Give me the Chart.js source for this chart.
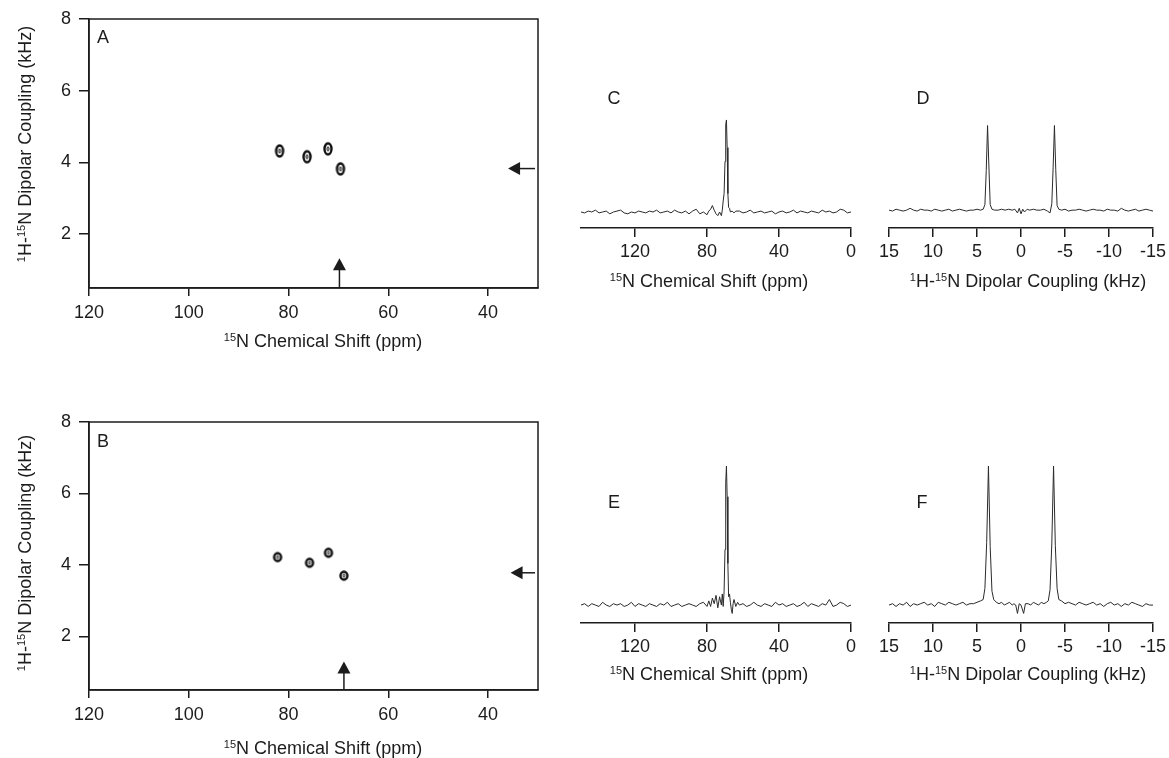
<!DOCTYPE html>
<html>
<head>
<meta charset="utf-8">
<script src="https://cdn.jsdelivr.net/npm/chart.js@4.4.0/dist/chart.umd.min.js"></script>
<style>
  body { margin: 0; background: #fff; width: 1169px; height: 758px; overflow: hidden; position: relative; }
  canvas { position: absolute; }
</style>
</head>
<body>
<canvas id="panelA" width="560" height="370" style="left:0;top:0"></canvas>
<canvas id="panelB" width="560" height="378" style="left:0;top:380px"></canvas>
<canvas id="panelC" width="305" height="230" style="left:560px;top:80px"></canvas>
<canvas id="panelD" width="320" height="230" style="left:865px;top:80px"></canvas>
<canvas id="panelE" width="305" height="250" style="left:560px;top:440px"></canvas>
<canvas id="panelF" width="320" height="250" style="left:865px;top:440px"></canvas>
<script>
// contour peak positions (ppm, kHz)
var peakShiftA = [81.8, 76.3, 72.1, 69.6];
var peakCouplingA = [4.32, 4.16, 4.38, 3.82];
var peakShiftB = [82.2, 75.8, 72.0, 68.9];
var peakCouplingB = [4.22, 4.06, 4.34, 3.70];

// arrow tips [ppm, kHz]
var upArrowA = [69.8, 1.33];
var sideArrowA = [36.0, 3.83];
var upArrowB = [68.9, 1.30];
var sideArrowB = [35.5, 3.78];

// tick values
var shiftTicks2D = [120, 100, 80, 60, 40];
var couplingTicks2D = [2, 4, 6, 8];
var shiftTicks1D = [120, 80, 40, 0];
var couplingTicks1D = [15, 10, 5, 0, -5, -10, -15];

// slices through the top spectrum
var shiftC = [150,148,146,144,142,140,138,136,134,132,130,128,126,124,122,120,118,116,114,112,110,108,106,104,102,100,98,96,94,92,90,88,86,84,82,80,
  79,78,77,76,75,74,73,72,
  71.5,71,70.5,70,69.6,69.2,68.8,68.4,68,67.5,67,66,65,64,
  62,60,58,56,54,52,50,48,46,44,42,40,38,36,34,32,30,28,26,24,22,20,18,16,14,12,10,8,6,4,2,0];
var intensityC = [0,-1,1,0,2,-1,0,1,-2,0,1,2,-1,-2,0,-1,1,0,-1,1,0,2,-1,0,1,-1,2,0,-1,1,-2,1,3,-2,0,-3,
  1,3,7,2,-2,-4,0,-4,
  2,12,20,55,95,100,70,20,5,4,0,1,-1,1,
  1,-1,0,2,-1,0,1,-1,0,1,-2,0,1,-1,0,2,-1,1,0,-1,1,0,-1,2,0,1,-1,0,3,2,-1,0];

var couplingD = [15,14.6,14.2,13.8,13.4,13,12.6,12.2,11.8,11.4,11,10.6,10.2,9.8,9.4,9,8.6,8.2,7.8,7.4,7,6.6,6.2,5.8,5.4,5,4.6,
  4.3,4.1,3.95,3.8,3.65,3.5,3.3,
  3,2.6,2.2,1.8,1.4,1,
  0.7,0.4,0.2,0,-0.2,-0.4,-0.7,
  -1,-1.4,-1.8,-2.2,-2.6,-3,
  -3.3,-3.5,-3.65,-3.8,-3.95,-4.1,-4.3,
  -4.6,-5,-5.4,-5.8,-6.2,-6.6,-7,-7.4,-7.8,-8.2,-8.6,-9,-9.4,-9.8,-10.2,-10.6,-11,-11.4,-11.8,-12.2,-12.6,-13,-13.4,-13.8,-14.2,-14.6,-15];
var intensityD = [2,1,3,2,1,2,4,2,1,3,2,2,1,3,2,1,2,3,1,2,3,2,1,2,2,3,2,
  3,8,45,94,50,8,3,
  2,2,3,2,3,2,
  3,-1,4,-2,3,0,3,
  2,3,2,2,3,1,
  -1,9,48,94,46,7,3,
  2,3,1,2,2,3,2,1,2,3,2,2,1,3,2,2,1,4,2,1,2,3,1,2,3,2,1];

// slices through the bottom spectrum
var shiftE = [150,148,146,144,142,140,138,136,134,132,130,128,126,124,122,120,118,116,114,112,110,108,106,104,102,100,98,96,94,92,90,88,86,84,82,
  80,79,78,77,76,75,74,73,72,71.5,71,70.5,70,69.6,69.2,68.8,68.4,68,67.5,67,66.5,66,65.5,65,64,63,62,
  60,58,56,54,52,50,48,46,44,42,40,38,36,34,32,30,28,26,24,22,20,18,16,14,12,10,8,6,4,2,0];
var intensityE = [0,1,-1,1,0,-1,2,0,-1,1,0,1,-1,0,2,-1,1,0,-1,1,0,-1,1,0,2,-1,0,1,-1,0,1,0,-1,1,2,
  -1,3,-1,5,1,7,-2,6,0,8,-1,10,40,88,100,78,30,6,8,2,-3,-6,1,4,-1,2,0,
  1,-1,0,2,0,-1,1,0,-1,2,0,1,-1,0,1,-1,0,2,-1,1,0,-1,1,0,4,-1,0,2,1,-1,0];

var couplingF = [15,14.6,14.2,13.8,13.4,13,12.6,12.2,11.8,11.4,11,10.6,10.2,9.8,9.4,9,8.6,8.2,7.8,7.4,7,6.6,6.2,5.8,5.4,5,4.6,
  4.3,4.1,3.9,3.7,3.5,3.3,3.1,
  2.8,2.5,2.2,1.9,1.6,1.3,1.0,0.8,
  0.6,0.4,0.2,0,-0.3,-0.5,
  -0.8,-1.1,-1.4,-1.7,-2.0,-2.3,-2.6,-2.9,
  -3.1,-3.3,-3.5,-3.7,-3.9,-4.1,-4.3,
  -4.6,-5,-5.4,-5.8,-6.2,-6.6,-7,-7.4,-7.8,-8.2,-8.6,-9,-9.4,-9.8,-10.2,-10.6,-11,-11.4,-11.8,-12.2,-12.6,-13,-13.4,-13.8,-14.2,-14.6,-15];
var intensityF = [0,1,-1,1,0,2,-1,1,0,1,2,0,1,-1,2,1,0,2,1,0,1,2,0,1,1,2,3,
  4,12,45,100,42,10,4,
  2,1,2,0,1,2,0,1,
  0,-6,1,0,-6,1,
  1,0,2,1,0,2,1,2,
  3,11,44,100,43,12,4,
  3,1,2,1,0,2,1,0,1,2,0,1,-1,1,2,0,1,-1,1,0,2,1,0,-1,1,0,0];

var ink = '#1c1c1c';
var family = "'Liberation Sans', Arial, sans-serif";

var shiftTitle = [['15', true], ['N Chemical Shift (ppm)', false]];
var couplingTitle = [['1', true], ['H-', false], ['15', true], ['N Dipolar Coupling (kHz)', false]];

function pairs(xs, ys) {
  return xs.map(function (x, i) { return { x: x, y: ys[i] }; });
}

function fixedTicks(values) {
  return function (scale) {
    scale.ticks = values.map(function (v) { return { value: v }; });
  };
}

// small contour ring used as the point style of the 2D peaks
function contourMark(w, h) {
  var c = document.createElement('canvas');
  c.width = w + 5; c.height = h + 5;
  var g = c.getContext('2d');
  g.strokeStyle = '#111';
  g.lineWidth = 2.4;
  g.beginPath();
  g.ellipse(c.width / 2, c.height / 2, w / 2, h / 2, 0, 0, Math.PI * 2);
  g.stroke();
  g.lineWidth = 1;
  g.beginPath();
  g.ellipse(c.width / 2, c.height / 2, w / 7, h / 5, 0, 0, Math.PI * 2);
  g.stroke();
  return c;
}

// text with superscript parts, centred on (cx, cy)
function drawRich(ctx, parts, cx, cy, angle) {
  ctx.save();
  ctx.translate(cx, cy);
  ctx.rotate(angle || 0);
  ctx.fillStyle = ink;
  ctx.textAlign = 'left';
  ctx.textBaseline = 'alphabetic';
  var total = 0;
  parts.forEach(function (p) {
    ctx.font = (p[1] ? 11 : 18) + 'px ' + family;
    total += ctx.measureText(p[0]).width;
  });
  var x = -total / 2;
  parts.forEach(function (p) {
    ctx.font = (p[1] ? 11 : 18) + 'px ' + family;
    ctx.fillText(p[0], x, p[1] ? 1 : 6.5);
    x += ctx.measureText(p[0]).width;
  });
  ctx.restore();
}

var decor = {
  id: 'decor',
  afterDraw: function (chart, args, o) {
    var ctx = chart.ctx, a = chart.chartArea;
    var sx = chart.scales.x, sy = chart.scales.y;
    ctx.save();
    ctx.strokeStyle = ink;
    ctx.fillStyle = ink;
    ctx.lineWidth = 1.5;
    if (o.box) {
      ctx.strokeRect(a.left, a.top, a.right - a.left, a.bottom - a.top);
    }
    if (o.up) {
      var ux = sx.getPixelForValue(o.up[0]), uy = sy.getPixelForValue(o.up[1]);
      ctx.beginPath();
      ctx.moveTo(ux, a.bottom);
      ctx.lineTo(ux, uy + 10);
      ctx.stroke();
      ctx.beginPath();
      ctx.moveTo(ux, uy);
      ctx.lineTo(ux - 6.5, uy + 12);
      ctx.lineTo(ux + 6.5, uy + 12);
      ctx.closePath();
      ctx.fill();
    }
    if (o.side) {
      var lx = sx.getPixelForValue(o.side[0]), ly = sy.getPixelForValue(o.side[1]);
      ctx.beginPath();
      ctx.moveTo(a.right - 3, ly);
      ctx.lineTo(lx + 10, ly);
      ctx.stroke();
      ctx.beginPath();
      ctx.moveTo(lx, ly);
      ctx.lineTo(lx + 12, ly - 6.5);
      ctx.lineTo(lx + 12, ly + 6.5);
      ctx.closePath();
      ctx.fill();
    }
    ctx.font = '18px ' + family;
    ctx.textAlign = 'center';
    ctx.textBaseline = 'middle';
    ctx.fillText(o.letter[0], o.letter[1], o.letter[2]);
    drawRich(ctx, o.xTitle[0], o.xTitle[1], o.xTitle[2], 0);
    if (o.yTitle) drawRich(ctx, o.yTitle[0], o.yTitle[1], o.yTitle[2], -Math.PI / 2);
    ctx.restore();
  }
};

function axisStyle(tickLength, pad) {
  return {
    grid: { display: true, drawOnChartArea: false, drawTicks: true, tickLength: tickLength, color: ink, lineWidth: 1.5 },
    border: { display: true, color: ink, width: 1.5 },
    ticks: { color: ink, font: { family: family, size: 18 }, padding: pad, maxRotation: 0, autoSkip: false }
  };
}

function contourPanel(id, shifts, couplings, mark, up, side, letter, g) {
  var xAxis = axisStyle(8, 6), yAxis = axisStyle(10, 8);
  new Chart(document.getElementById(id), {
    type: 'scatter',
    data: {
      datasets: [{
        data: pairs(shifts, couplings),
        pointStyle: mark,
        pointRadius: 5,
        pointHoverRadius: 5
      }]
    },
    options: {
      responsive: false,
      animation: false,
      events: [],
      layout: { padding: { left: 0, top: g.top, right: 22, bottom: 0 } },
      plugins: {
        legend: { display: false },
        tooltip: { enabled: false },
        decor: {
          box: true, up: up, side: side, letter: letter,
          xTitle: [shiftTitle, 323, g.xTitleY],
          yTitle: [couplingTitle, 24, g.yTitleY]
        }
      },
      scales: {
        x: Object.assign(xAxis, {
          type: 'linear', reverse: true, min: 30, max: 120,
          afterBuildTicks: fixedTicks(shiftTicks2D),
          afterFit: function (s) { s.height = g.xHeight; }
        }),
        y: Object.assign(yAxis, {
          type: 'linear', min: 0.5, max: 8,
          afterBuildTicks: fixedTicks(couplingTicks2D),
          afterFit: function (s) { s.width = 89; }
        })
      }
    },
    plugins: [decor]
  });
}

function slicePanel(id, xs, ys, range, ticks, yRange, title, letter, g) {
  var xAxis = axisStyle(9, 4);
  new Chart(document.getElementById(id), {
    type: 'line',
    data: {
      datasets: [{
        data: pairs(xs, ys),
        borderColor: '#2a2a2a',
        borderWidth: 1,
        pointRadius: 0,
        tension: 0,
        clip: false
      }]
    },
    options: {
      responsive: false,
      animation: false,
      events: [],
      layout: { padding: { left: g.left, top: 20, right: g.right, bottom: 0 } },
      plugins: {
        legend: { display: false },
        tooltip: { enabled: false },
        decor: { letter: letter, xTitle: [title, g.titleX, g.titleY] }
      },
      scales: {
        x: Object.assign(xAxis, {
          type: 'linear', reverse: true, min: range[0], max: range[1],
          afterBuildTicks: fixedTicks(ticks),
          afterFit: function (s) { s.height = g.xHeight; }
        }),
        y: { type: 'linear', display: false, min: yRange[0], max: yRange[1] }
      }
    },
    plugins: [decor]
  });
}

var markA = contourMark(7, 11);
var markB = contourMark(7, 8);

contourPanel('panelA', peakShiftA, peakCouplingA, markA, upArrowA, sideArrowA, ['A', 103, 38],
  { top: 19, xHeight: 82, xTitleY: 340, yTitleY: 144 });
contourPanel('panelB', peakShiftB, peakCouplingB, markB, upArrowB, sideArrowB, ['B', 103, 62],
  { top: 42, xHeight: 68, xTitleY: 367, yTitleY: 173 });

var topRange = [-17.4, 121.7];
var bottomRange = [-12.9, 104.4];

slicePanel('panelC', shiftC, intensityC, [0, 150], shiftTicks1D, topRange, shiftTitle, ['C', 54, 19],
  { left: 21, right: 14, xHeight: 82, titleX: 149, titleY: 200 });
slicePanel('panelD', couplingD, intensityD, [-15, 15], couplingTicks1D, topRange, couplingTitle, ['D', 58, 19],
  { left: 24, right: 32, xHeight: 82, titleX: 163, titleY: 200 });
slicePanel('panelE', shiftE, intensityE, [0, 150], shiftTicks1D, bottomRange, shiftTitle, ['E', 54, 63],
  { left: 21, right: 14, xHeight: 67, titleX: 149, titleY: 233 });
slicePanel('panelF', couplingF, intensityF, [-15, 15], couplingTicks1D, bottomRange, couplingTitle, ['F', 57, 63],
  { left: 24, right: 32, xHeight: 67, titleX: 163, titleY: 233 });
</script>
</body>
</html>
